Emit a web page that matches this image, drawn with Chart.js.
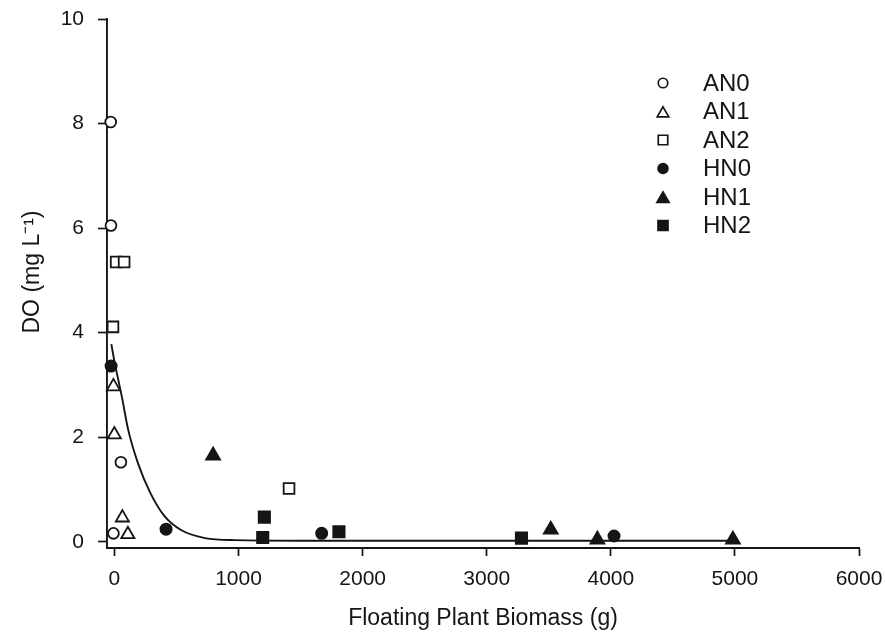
<!DOCTYPE html>
<html>
<head>
<meta charset="utf-8">
<script src="https://cdn.jsdelivr.net/npm/chart.js@4/dist/chart.umd.min.js"></script>
<style>
  html, body { margin: 0; padding: 0; background: #fff; }
  #wrap { width: 885px; height: 636px; }
</style>
</head>
<body>
<div id="wrap"><canvas id="doChart" width="885" height="636"></canvas></div>
<script>
// Data
const seriesNames = ['AN0', 'AN1', 'AN2', 'HN0', 'HN1', 'HN2'];
const an0X = [-30, -28, 52, -8];
const an0Y = [8.03, 6.05, 1.52, 0.16];
const an1X = [-8, -1, 64, 108];
const an1Y = [2.97, 2.05, 0.46, 0.14];
const an2X = [14, 78, -12, 1407];
const an2Y = [5.35, 5.35, 4.11, 1.02];
const hn0X = [-27, 416, 1670, 4026];
const hn0Y = [3.36, 0.24, 0.16, 0.11];
const hn1X = [795, 3516, 3892, 4984];
const hn1Y = [1.65, 0.23, 0.04, 0.04];
const hn2X = [1208, 1195, 1809, 3280];
const hn2Y = [0.47, 0.08, 0.19, 0.07];

// fitted curve, points
const fitX = [-25, 0, 60, 110, 190, 290, 400, 540, 730, 970, 1500, 2500, 3500, 5000];
const fitY = [3.78, 3.45, 2.77, 2.15, 1.5, 0.93, 0.5, 0.22, 0.07, 0.03, 0.02, 0.02, 0.02, 0.02];

const xTicks = [0, 1000, 2000, 3000, 4000, 5000, 6000];
const yTicks = [0, 2, 4, 6, 8, 10];

const ink = '#151515';
const fontFamily = '"Liberation Sans", Arial, sans-serif';

const toPoints = (xs, ys) => xs.map((x, i) => ({ x: x, y: ys[i] }));

// marker look per series
const markers = [
    { style: 'circle', radius: 5.4, fill: '#fff' },
    { style: 'triangle', radius: 7.6, fill: '#fff' },
    { style: 'rect', radius: 7.6, fill: '#fff' },
    { style: 'circle', radius: 5.6, fill: ink },
    { style: 'triangle', radius: 8, fill: ink },
    { style: 'rect', radius: 8, fill: ink }
];

const seriesData = [
    toPoints(an0X, an0Y),
    toPoints(an1X, an1Y),
    toPoints(an2X, an2Y),
    toPoints(hn0X, hn0Y),
    toPoints(hn1X, hn1Y),
    toPoints(hn2X, hn2Y)
];

const datasets = seriesNames.map((name, i) => ({
    label: name,
    data: seriesData[i],
    pointStyle: markers[i].style,
    pointRadius: markers[i].radius,
    pointHoverRadius: markers[i].radius,
    pointBackgroundColor: markers[i].fill,
    pointBorderColor: ink,
    pointBorderWidth: 1.8,
    showLine: false,
    clip: false
}));

datasets.push({
    label: 'fit',
    type: 'line',
    data: toPoints(fitX, fitY),
    borderColor: ink,
    borderWidth: 1.9,
    pointRadius: 0,
    fill: false,
    cubicInterpolationMode: 'monotone',
    clip: false
});

// draw a marker the same way as the points
function drawMarker(ctx, m, x, y, scale) {
    const r = m.radius * scale;
    ctx.save();
    ctx.beginPath();
    if (m.style === 'circle') {
        ctx.arc(x, y, r, 0, Math.PI * 2);
    } else if (m.style === 'triangle') {
        let rad = 0;
        ctx.moveTo(x + Math.sin(rad) * r, y - Math.cos(rad) * r);
        rad += Math.PI * 2 / 3;
        ctx.lineTo(x + Math.sin(rad) * r, y - Math.cos(rad) * r);
        rad += Math.PI * 2 / 3;
        ctx.lineTo(x + Math.sin(rad) * r, y - Math.cos(rad) * r);
        ctx.closePath();
    } else {
        const s = r * Math.SQRT1_2;
        ctx.rect(x - s, y - s, 2 * s, 2 * s);
    }
    ctx.fillStyle = m.fill;
    ctx.fill();
    ctx.lineWidth = 1.7;
    ctx.strokeStyle = ink;
    ctx.stroke();
    ctx.restore();
}

// legend box and rotated y title
const legendPlugin = {
    id: 'sideLegend',
    afterDraw(chart) {
        const ctx = chart.ctx;
        ctx.save();
        ctx.font = '24px ' + fontFamily;
        ctx.fillStyle = ink;
        ctx.textBaseline = 'middle';
        ctx.textAlign = 'left';
        seriesNames.forEach((name, i) => {
            const y = 83 + i * 28.5;
            drawMarker(ctx, markers[i], 663, y + (markers[i].style === 'triangle' ? 2 : 0), 0.88);
            ctx.fillText(name, 703, y + 1);
        });

        ctx.translate(33, 272);
        ctx.rotate(-Math.PI / 2);
        ctx.font = '23px ' + fontFamily;
        ctx.textAlign = 'center';
        ctx.fillText('DO (mg L\u207B\u00B9)', 0, 0);
        ctx.restore();
    }
};

new Chart(document.getElementById('doChart').getContext('2d'), {
    type: 'scatter',
    data: { datasets: datasets },
    options: {
        responsive: false,
        animation: false,
        layout: { padding: { top: 19, right: 26, left: 0, bottom: 0 } },
        plugins: {
            legend: { display: false },
            tooltip: { enabled: false }
        },
        scales: {
            x: {
                type: 'linear',
                min: -60,
                max: 6000,
                afterFit: (scale) => {
                    scale.height = 88;
                    scale.paddingLeft = 0;
                    scale.paddingRight = 0;
                },
                afterBuildTicks: (scale) => { scale.ticks = xTicks.map(v => ({ value: v })); },
                grid: { drawOnChartArea: false, drawTicks: true, tickLength: 8, tickWidth: 1.7, tickColor: ink },
                border: { display: true, color: ink, width: 1.9 },
                ticks: {
                    color: ink,
                    font: { family: fontFamily, size: 21 },
                    padding: 11,
                    maxRotation: 0,
                    callback: (v) => String(v)
                },
                title: {
                    display: true,
                    text: 'Floating Plant Biomass (g)',
                    color: ink,
                    font: { family: fontFamily, size: 23 },
                    padding: { top: 0, bottom: 4 }
                }
            },
            y: {
                type: 'linear',
                min: -0.12,
                max: 10,
                afterFit: (scale) => {
                    scale.width = 107;
                    scale.paddingTop = 0;
                    scale.paddingBottom = 0;
                },
                afterBuildTicks: (scale) => { scale.ticks = yTicks.map(v => ({ value: v })); },
                grid: { drawOnChartArea: false, drawTicks: true, tickLength: 9, tickWidth: 1.7, tickColor: ink },
                border: { display: true, color: ink, width: 1.9 },
                ticks: {
                    color: ink,
                    font: { family: fontFamily, size: 21 },
                    padding: 14,
                    callback: (v) => String(v)
                },
                title: { display: false }
            }
        }
    },
    plugins: [legendPlugin]
});
</script>
</body>
</html>
